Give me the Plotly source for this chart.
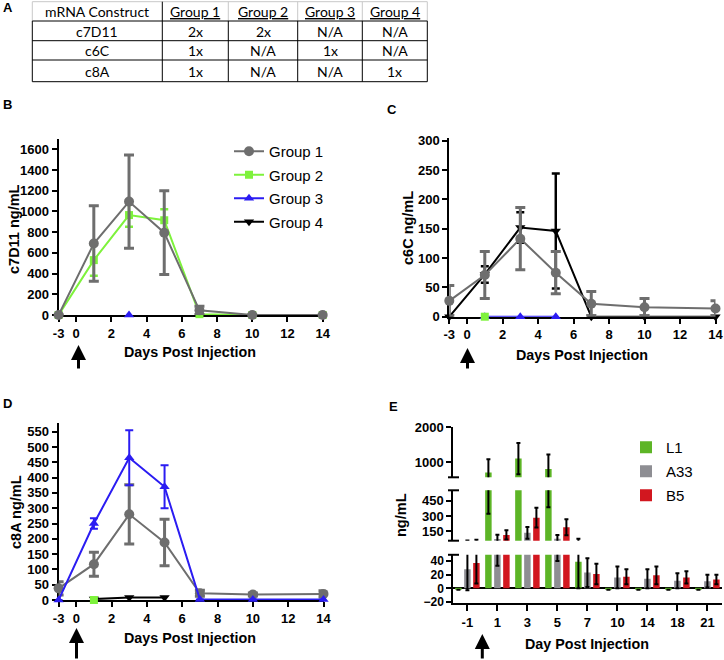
import plotly.graph_objects as go

W, H = 724, 660
ARIAL = "Liberation Sans, Arial, sans-serif"
TFONT = "Lato, Calibri, sans-serif"

# ---------------- data ----------------
table_header = ["mRNA Construct", "Group 1", "Group 2", "Group 3", "Group 4"]
constructs = ["c7D11", "c6C", "c8A"]
doses = [["2x", "2x", "N/A", "N/A"],
         ["1x", "N/A", "1x", "N/A"],
         ["1x", "N/A", "N/A", "1x"]]

days = [-3, 1, 3, 5, 7, 10, 14]
x_tick_days = [-3, 0, 2, 4, 6, 8, 10, 12, 14]
group_names = ["Group 1", "Group 2", "Group 3", "Group 4"]

# Panel B : c7D11 ng/mL
b_g1 = [0, 690, 1095, 795, 45, 0, 0]
b_g1_sd = [0, 365, 450, 405, 40, 0, 0]
b_g2 = [0, 530, 965, 915, 8, 0, 0]
b_g2_sd = [0, 150, 113, 107, 0, 0, 0]
b_g3 = [None, None, 0, None, None, None, None]

# Panel C : c6C ng/mL
c_g1 = [27, 71, 133, 75, 22, 16, 14]
c_g1_sd = [26, 40, 53, 36, 21, 15, 13]
c_g2 = [None, 0, None, None, None, None, None]
c_g3 = [None, 0, 0, 0, None, None, None]
c_g4 = [0, 72, 152, 146, 0, 0, 0]
c_g4_sd = [0, 14, 26, 98, 0, 0, 0]

# Panel D : c8A ng/mL
d_g1 = [38, 117, 280, 188, 22, 18, 20]
d_g1_sd = [22, 39, 97, 76, 10, 5, 10]
d_g2 = [None, 0, None, None, None, None, None]
d_g3 = [0, 250, 465, 370, 2, 2, 2]
d_g3_sd = [0, 17, 90, 70, 0, 0, 0]
d_g4 = [None, 3, 8, 8, None, None, None]

# Panel E : ng/mL bars
e_days = ["-1", "1", "3", "5", "7", "10", "14", "18", "21"]
e_L1 = [-2, 700, 1100, 800, 39, -2, -2, -2, -2]
e_L1_sd = [0, 378, 450, 415, 39, 0, 0, 0, 0]
e_A33 = [28, 75, 135, 77, 23, 16, 14, 11, 10.5]
e_A33_sd = [31, 42, 58, 37, 21, 16, 14, 11, 9.5]
e_B5 = [37, 115, 283, 190, 21, 17, 19, 16, 13]
e_B5_sd = [30, 45, 96, 78, 15, 11, 13, 9, 7]
e_names = ["L1", "A33", "B5"]

# ---------------- styles ----------------
GRAY = "#6e6e6e"
GREEN = "#7ef23c"
BLUE = "#2b1cf2"
BLACK = "#000000"
STY = {
    "Group 1": dict(color=GRAY, symbol="circle", size=10, eth=3, ew=5),
    "Group 2": dict(color=GREEN, symbol="square", size=8, eth=2.5, ew=4),
    "Group 3": dict(color=BLUE, symbol="triangle-up", size=9, eth=2, ew=4),
    "Group 4": dict(color=BLACK, symbol="triangle-down", size=9, eth=2.5, ew=4),
}
E_COLORS = ["#5db526", "#8e8e93", "#d2171f"]


def pos(d):
    # axis break: pre-injection day -3 is drawn one unit left of day 0
    return -1 if d < 0 else d


def P(px):
    return px / W


def Q(py):
    return 1 - py / H


fig = go.Figure()


def add_series(xa, ya, vals, sd, group, showlegend=False, rank=1):
    s = STY[group]
    err = None
    if sd is not None:
        err = dict(type="data", array=sd, color=s["color"], thickness=s["eth"], width=s["ew"])
    fig.add_trace(go.Scatter(
        x=[pos(d) for d in days], y=vals, name=group, xaxis=xa, yaxis=ya,
        mode="lines+markers", connectgaps=False, cliponaxis=False,
        line=dict(color=s["color"], width=2),
        marker=dict(color=s["color"], symbol=s["symbol"], size=s["size"]),
        error_y=err, showlegend=showlegend, legend="legend", legendrank=rank,
        legendgroup=group,
    ))


# Panel B
add_series("x", "y", b_g2, b_g2_sd, "Group 2")
add_series("x", "y", b_g1, b_g1_sd, "Group 1")
add_series("x", "y", b_g3, None, "Group 3")
# Panel C
add_series("x2", "y2", c_g4, c_g4_sd, "Group 4")
add_series("x2", "y2", c_g1, c_g1_sd, "Group 1")
add_series("x2", "y2", c_g3, None, "Group 3")
add_series("x2", "y2", c_g2, None, "Group 2")
# Panel D (also provides the legend entries shown in panel B area)
add_series("x3", "y3", d_g1, d_g1_sd, "Group 1", True, 1)
add_series("x3", "y3", d_g3, d_g3_sd, "Group 3", True, 3)
add_series("x3", "y3", d_g4, None, "Group 4", True, 4)
add_series("x3", "y3", d_g2, None, "Group 2", True, 2)

# Panel E : broken axis -> three stacked segments
e_idx = list(range(len(e_days)))
for ya in ["y4", "y5", "y6"]:
    for k, (name, vals, sd, col) in enumerate(zip(e_names, [e_L1, e_A33, e_B5],
                                                  [e_L1_sd, e_A33_sd, e_B5_sd], E_COLORS)):
        fig.add_trace(go.Bar(
            x=e_idx, y=vals, name=name, xaxis="x4", yaxis=ya,
            marker=dict(color=col, line=dict(width=0)),
            error_y=dict(type="data", array=sd, color="black", thickness=2, width=2),
            showlegend=(ya == "y4"), legend="legend2", legendgroup="E" + name,
            legendrank=k + 1,
        ))

# ---------------- axes ----------------
tickfont = dict(family=ARIAL, size=13, color="black", weight="bold")


def xax(d0, d1, anchor):
    return dict(domain=[P(d0), P(d1)], anchor=anchor, range=[-1, 14],
                tickvals=[pos(d) for d in x_tick_days], ticktext=[str(d) for d in x_tick_days],
                ticks="outside", ticklen=5, tickwidth=2, tickcolor="black",
                showline=True, linewidth=2, linecolor="black", showgrid=False, zeroline=False,
                tickfont=tickfont, layer="below traces", ticklabeloverflow="allow")


def yax(top_px, bot_px, rng, tickvals, anchor, fsize=13):
    tf = dict(tickfont)
    tf["size"] = fsize
    return dict(domain=[Q(bot_px), Q(top_px)], anchor=anchor, range=rng, tickvals=tickvals,
                ticks="outside", ticklen=5, tickwidth=2, tickcolor="black",
                showline=True, linewidth=2, linecolor="black", showgrid=False, zeroline=False,
                tickfont=tf, layer="below traces", ticklabeloverflow="allow")


fig.update_layout(
    xaxis=xax(58.6, 322.7, "y"),
    yaxis=yax(315 - 1700 * (165.7 / 1600), 315, [0, 1700], list(range(0, 1601, 200)), "x"),
    xaxis2=xax(449.3, 715.5, "y2"),
    yaxis2=yax(316.7 - 304 * (176 / 300), 316.7, [0, 304], list(range(0, 301, 50)), "x2"),
    xaxis3=xax(58.6, 323.5, "y3"),
    yaxis3=yax(600 - 580 * (168.3 / 550), 600, [0, 580], list(range(0, 551, 50)), "x3"),
)

# E axes
s4 = 27.3 / 40.0  # px per unit, bottom segment
s5 = 15.35 / 150.0
s6 = 34.7 / 1000.0
y4 = yax(588.3 - 49 * s4, 588.3 + 22 * s4, [-22, 49], [-20, 0, 20, 40], "x4", fsize=12)
y4.update(zeroline=True, zerolinecolor="black", zerolinewidth=2)
y5 = yax(531.3 - 400 * s5, 531.3 + 92 * s5, [58, 550], [150, 300, 450], "x4")
y6 = yax(462 - 1000 * s6, 462 + 440 * s6, [560, 2000], [1000, 2000], "x4")
x4 = dict(domain=[P(453.3), P(721.5)], anchor="y4", range=[-0.47, 8.47],
          tickvals=e_idx, ticktext=e_days, ticks="outside", ticklen=6, tickwidth=2,
          tickcolor="black", showline=True, linewidth=2, linecolor="black",
          showgrid=False, zeroline=False, tickfont=tickfont, ticklabeloverflow="allow")
fig.update_layout(xaxis4=x4, yaxis4=y4, yaxis5=y5, yaxis6=y6)

# ---------------- shapes: table + axis-break caps ----------------
shapes = []


def hline(x0, x1, y, color="black", w=1):
    shapes.append(dict(type="line", xref="paper", yref="paper", x0=P(x0), x1=P(x1),
                       y0=Q(y), y1=Q(y), line=dict(color=color, width=w)))


def vline(x, y0, y1, color="black", w=1):
    shapes.append(dict(type="line", xref="paper", yref="paper", x0=P(x), x1=P(x),
                       y0=Q(y0), y1=Q(y1), line=dict(color=color, width=w)))


TL, TR = 32.3, 427.3
col_sep = [162.3, 228.3, 297.7, 362.3]
row_y = [1.7, 21, 40.7, 60, 81.7]
LG = "#c8c8c8"
hline(TL, TR, row_y[0], LG)
vline(TL, row_y[0], row_y[1], LG)
vline(TR, row_y[0], row_y[1], LG)
for cx in col_sep[1:]:
    vline(cx, row_y[0], row_y[1], LG)
vline(col_sep[0], row_y[0], row_y[-1])
for ry in row_y[1:]:
    hline(TL, TR, ry)
for cx in [TL, TR] + col_sep[1:]:
    vline(cx, row_y[1], row_y[-1])

# axis break caps on panel E
for cy in [477.3, 490.3, 540.7, 554.8]:
    hline(448, 459, cy, "black", 2)

# ---------------- annotations ----------------
anns = []


def ann(text, x, y, size, bold=False, angle=0, family=ARIAL):
    anns.append(dict(text=text, x=P(x), y=Q(y), xref="paper", yref="paper", showarrow=False,
                     font=dict(size=size, family=family, color="black",
                               weight="bold" if bold else "normal"),
                     textangle=angle, xanchor="center", yanchor="middle"))


# table text
col_centers = [(TL + col_sep[0]) / 2, (col_sep[0] + col_sep[1]) / 2, (col_sep[1] + col_sep[2]) / 2,
               (col_sep[2] + col_sep[3]) / 2, (col_sep[3] + TR) / 2]
row_centers = [(row_y[i] + row_y[i + 1]) / 2 + 0.5 for i in range(4)]
for j, h in enumerate(table_header):
    ann(h if j == 0 else "<u>" + h + "</u>", col_centers[j], row_centers[0], 14, family=TFONT)
for i, c in enumerate(constructs):
    ann(c, col_centers[0], row_centers[i + 1], 14, family=TFONT)
    for j, v in enumerate(doses[i]):
        ann(v, col_centers[j + 1], row_centers[i + 1], 14, family=TFONT)

# panel letters
for letter, x, y in [("A", 8, 8), ("B", 7, 105), ("C", 392, 109), ("D", 7, 404), ("E", 393, 406)]:
    ann(letter, x, y, 13, bold=True)

# axis titles
ann("c7D11 ng/mL", 14, 229, 14.5, bold=True, angle=-90)
ann("c6C ng/mL", 408, 228, 14.5, bold=True, angle=-90)
ann("c8A ng/mL", 16, 512, 14.5, bold=True, angle=-90)
ann("ng/mL", 401, 515, 14.5, bold=True, angle=-90)
ann("Days Post Injection", 190, 352, 14.3, bold=True)
ann("Days Post Injection", 582, 355, 14.3, bold=True)
ann("Days Post Injection", 190, 638, 14.3, bold=True)
ann("Day Post Injection", 587, 644, 14.3, bold=True)

# injection arrows (day 0)
for ax_x, tip_y, length in [(78.5, 345, 25), (467.5, 348, 22), (76.5, 628, 32), (482.3, 634, 26)]:
    anns.append(dict(text="", x=P(ax_x), y=Q(tip_y), xref="paper", yref="paper",
                     showarrow=True, ax=0, ay=length, axref="pixel", ayref="pixel",
                     arrowhead=2, arrowsize=1, arrowwidth=3, arrowcolor="black"))

fig.update_layout(
    width=W, height=H, margin=dict(l=0, r=0, t=0, b=0, autoexpand=False),
    paper_bgcolor="white", plot_bgcolor="rgba(0,0,0,0)",
    shapes=shapes, annotations=anns,
    barmode="group", bargap=0.1, bargroupgap=0.28,
    font=dict(family=ARIAL, color="black"),
    legend=dict(x=P(229), y=Q(135), xanchor="left", yanchor="top",
                font=dict(family=ARIAL, size=15, color="black"),
                bgcolor="rgba(0,0,0,0)", tracegroupgap=1, traceorder="grouped"),
    legend2=dict(x=P(626), y=Q(431), xanchor="left", yanchor="top",
                 font=dict(family=ARIAL, size=15, color="black"),
                 bgcolor="rgba(0,0,0,0)", tracegroupgap=1.5, traceorder="grouped"),
)

fig.write_html("out.html", config={"displayModeBar": False},
               post_script="document.body.style.margin='0px';document.body.style.overflow='hidden';")
